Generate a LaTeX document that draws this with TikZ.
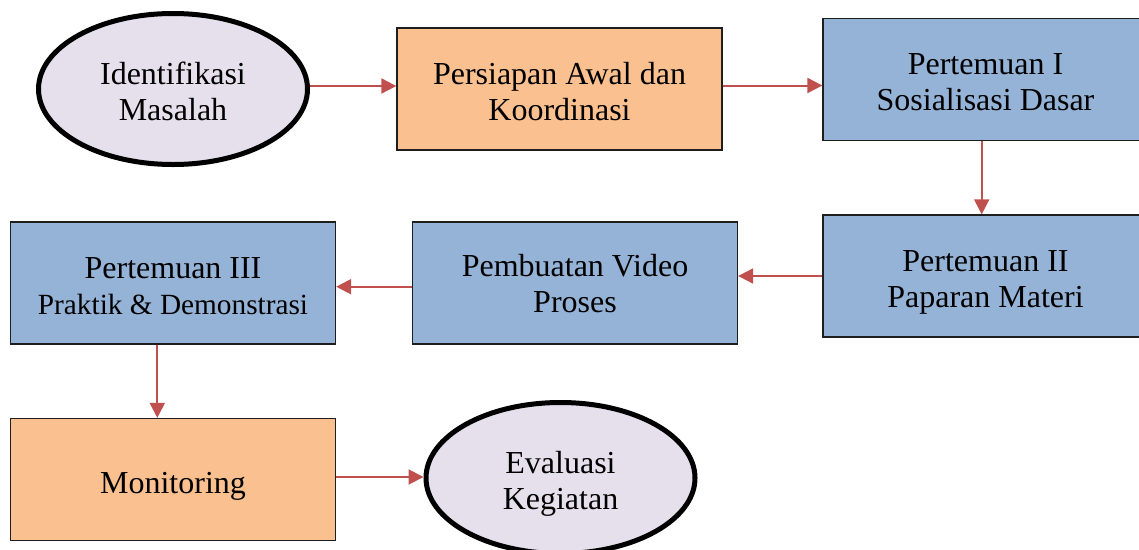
\documentclass[tikz,border=0pt]{standalone}
\usepackage{fontspec}
\setmainfont{Liberation Serif}
\usetikzlibrary{shapes.geometric,arrows.meta}
\definecolor{boxorange}{HTML}{FAC090}
\definecolor{boxblue}{HTML}{95B3D7}
\definecolor{ovalfill}{HTML}{E5E0EC}
\definecolor{arrowred}{HTML}{C0504D}
\definecolor{edge}{HTML}{1E1E1E}
% invisible strut that lowers a node's text block by a chosen amount
\newcommand{\lowerby}[1]{\rule{0pt}{\dimexpr 22pt+2\dimexpr #1\relax\relax}}
\tikzset{
  txt/.style={font=\fontsize{32}{36}\selectfont, align=center, text=black},
  stepbox/.style={txt, rectangle, draw=edge, line width=1.3pt, inner sep=0pt,
    minimum width=325pt, minimum height=122pt},
  orangebox/.style={stepbox, fill=boxorange},
  bluebox/.style={stepbox, fill=boxblue},
  oval/.style={txt, ellipse, draw=black, line width=5pt, fill=ovalfill, inner sep=0pt,
    minimum width=269pt, minimum height=151pt},
  flow/.style={draw=arrowred, line width=2pt, -{Triangle[length=15pt,width=15pt]}}
}
\begin{document}
\begin{tikzpicture}[x=1pt,y=-1pt]
  \useasboundingbox (0,0) rectangle (1139,549);
  \clip (0,0) rectangle (1139,549);

  % top row
  \node[oval] (ident) at (173,89) {\lowerby{2.5pt}Identifikasi\\Masalah};
  \node[orangebox] (persiapan) at (559.5,89) {\lowerby{2.5pt}Persiapan Awal dan\\Koordinasi};
  \node[bluebox] (p1) at (985.5,79.5) {\lowerby{2pt}Pertemuan I\\Sosialisasi Dasar};

  % middle row
  \node[bluebox] (p2) at (985.5,276) {\lowerby{6pt}Pertemuan II\\Paparan Materi};
  \node[bluebox] (video) at (575,283) {\lowerby{1pt}Pembuatan Video\\Proses};
  \node[bluebox] (p3) at (173,283) {\lowerby{2.5pt}Pertemuan III\\{\fontsize{29.3}{36}\selectfont Praktik \& Demonstrasi}};

  % bottom row
  \node[orangebox] (monitor) at (173,479.5) {\lowerby{6pt}Monitoring};
  \node[oval] (eval) at (560.5,478) {\lowerby{6pt}Evaluasi\\Kegiatan};

  % connectors
  \draw[flow] ([yshift=3pt]ident.east) -- ([yshift=3pt]ident.east -| persiapan.west);
  \draw[flow] ([yshift=3.5pt]persiapan.east) -- ([yshift=3.5pt]persiapan.east -| p1.west);
  \draw[flow] ([xshift=-3.8pt]p1.south) -- ([xshift=-3.8pt]p1.south |- p2.north);
  \draw[flow] (p2.west) -- (p2.west -| video.east);
  \draw[flow] ([yshift=-3.7pt]video.west) -- ([yshift=-3.7pt]video.west -| p3.east);
  \draw[flow] ([xshift=-15.7pt]p3.south) -- ([xshift=-15.7pt]p3.south |- monitor.north);
  \draw[flow] ([yshift=2.5pt]monitor.east) -- ([yshift=2.5pt]monitor.east -| eval.west);
\end{tikzpicture}
\end{document}
